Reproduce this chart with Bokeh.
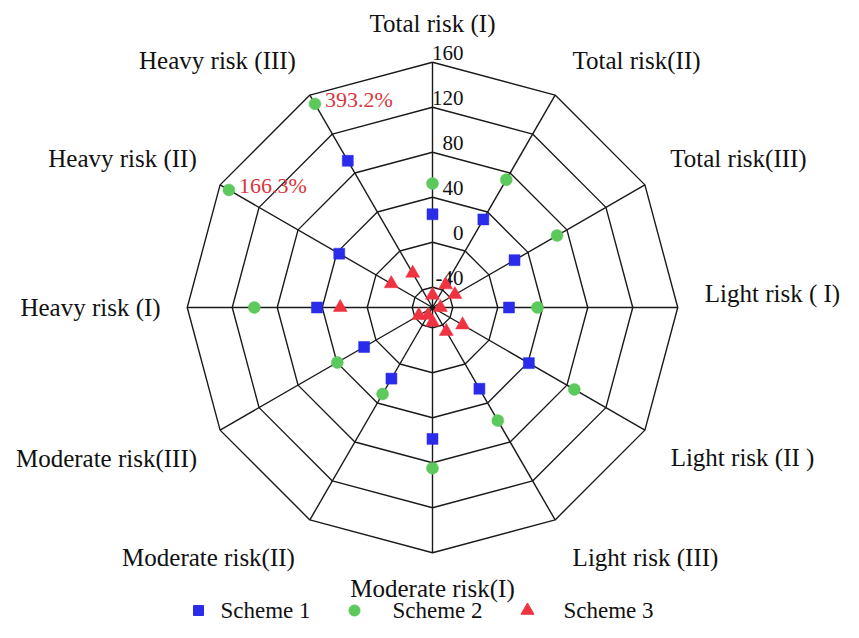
import numpy as np
from bokeh.plotting import figure
from bokeh.models import Range1d
from bokeh.core.properties import value
from bokeh.embed import file_html
from bokeh.resources import INLINE

# ---------------- data ----------------
categories = ["Total risk (I)", "Total risk(II)", "Total risk(III)", "Light risk ( I)",
              "Light risk (II )", "Light risk (III)", "Moderate risk(I)", "Moderate risk(II)",
              "Moderate risk(III)", "Heavy risk (I)", "Heavy risk (II)", "Heavy risk (III)"]
scheme1 = [24.9, 32.4, 26.2, 10.0, 40.9, 25.4, 58.8, 15.0, 12.2, 44.7, 37.7, 92.6]
scheme2 = [52.2, 73.2, 69.8, 35.3, 87.6, 58.1, 84.8, 30.8, 39.7, 100.4, 151.0, 151.0]
scheme3 = [-47.0, -34.7, -35.0, -51.0, -27.1, -33.5, -45.0, -50.0, -44.0, 24.0, -15.7, -22.8]
series_names = ["Scheme 1", "Scheme 2", "Scheme 3"]
tick_values = [-40, 0, 40, 80, 120, 160]
tick_labels = ["-40", "0", "40", "80", "120", "160"]
annot_index = [10, 11]
annot_text = ["166.3%", "393.2%"]

# ---------------- layout ----------------
R_MIN = -58.0      # value at the centre
PX_PER_UNIT = 1.125
N = len(categories)
theta = np.arange(N) * 2 * np.pi / N   # clockwise from top


def radius(v):
    return (np.asarray(v, dtype=float) - R_MIN) * PX_PER_UNIT


def to_xy(vals):
    r = radius(vals)
    return r * np.sin(theta), r * np.cos(theta)


FONT = value("Liberation Serif")
LINE = "#1a1a1a"
TXT = "#111111"

p = figure(width=843, height=622, x_range=Range1d(-432, 411), y_range=Range1d(-315, 307),
           output_backend="svg", toolbar_location=None, min_border=0)
p.axis.visible = False
p.grid.visible = False
p.outline_line_color = None
p.background_fill_color = "white"
p.border_fill_color = "white"

# rings
ring_xs, ring_ys = [], []
for t in tick_values:
    xs, ys = to_xy([t] * N)
    ring_xs.append(list(xs) + [xs[0]])
    ring_ys.append(list(ys) + [ys[0]])
p.multi_line(ring_xs, ring_ys, line_color=LINE, line_width=1.4)

# spokes
ox, oy = to_xy([max(tick_values)] * N)
cx, cy = to_xy([R_MIN] * N)
p.multi_line([[cx[i], ox[i]] for i in range(N)], [[cy[i], oy[i]] for i in range(N)],
             line_color=LINE, line_width=1.4)

# tick labels along the top spoke
p.text(x=[31] * len(tick_values), y=list(radius(tick_values) + 9), text=tick_labels,
       text_font=FONT, text_font_size="21px", text_align="right",
       text_baseline="middle", text_color=TXT)

# category labels
label_pos = [(0, 284), (204, 247), (306, 149), (340, 14), (310, -150), (213, -250),
             (0, -281), (-224, -250), (-326, -151), (-342, 0), (-310, 149), (-215, 247)]
p.text(x=[q[0] for q in label_pos], y=[q[1] for q in label_pos], text=categories,
       text_font=FONT, text_font_size="25px", text_align="center",
       text_baseline="middle", text_color=TXT)

# series
colors = ["#2b2bea", "#5cc95c", "#ef3340"]
markers = ["square", "circle", "triangle"]
sizes = [11, 12, 14]
for vals, c, m, s in zip([scheme1, scheme2, scheme3], colors, markers, sizes):
    x, y = to_xy(vals)
    p.scatter(x=x, y=y, marker=m, size=s, fill_color=c, line_color=c, line_width=0.5)

# annotations
x2, y2 = to_xy(scheme2)
p.text(x=[x2[i] for i in annot_index], y=[y2[i] for i in annot_index], text=annot_text,
       text_font=FONT, text_font_size="22px", text_align="left", text_baseline="middle",
       text_color="#d9363e", x_offset=10, y_offset=-4)

# legend (manual)
leg_marker_x = [-234, -78, 95]
leg_text_x = [-212, -40, 131]
leg_y = -303
for i in range(3):
    p.scatter(x=[leg_marker_x[i]], y=[leg_y], marker=markers[i], size=sizes[i] - 1,
              fill_color=colors[i], line_color=colors[i])
p.text(x=leg_text_x, y=[leg_y] * 3, text=series_names, text_font=FONT,
       text_font_size="23px", text_align="left", text_baseline="middle",
       text_color=TXT)

open("out.html", "w").write(file_html(p, INLINE))
